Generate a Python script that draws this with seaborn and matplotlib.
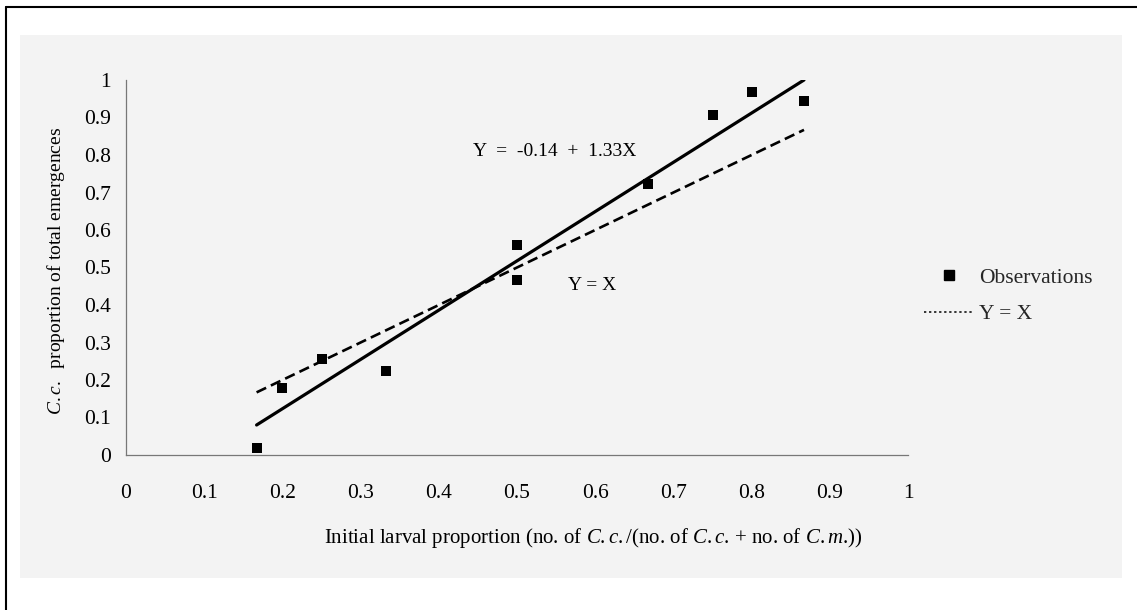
import matplotlib
matplotlib.use("Agg")
import matplotlib.pyplot as plt
import seaborn as sns
import pandas as pd
from matplotlib.lines import Line2D
from matplotlib.patches import Rectangle

# ---- data ----
obs_x = [0.167, 0.2, 0.25, 0.333, 0.5, 0.5, 0.667, 0.75, 0.8, 0.867]
obs_y = [0.02, 0.18, 0.255, 0.225, 0.56, 0.468, 0.722, 0.908, 0.968, 0.945]
fit_x = [0.167, 0.867]
fit_y = [0.08, 1.0]
idline_x = [0.167, 0.867]
idline_y = [0.167, 0.867]
tick_vals = [0, 0.1, 0.2, 0.3, 0.4, 0.5, 0.6, 0.7, 0.8, 0.9, 1]
tick_labels = ["0", "0.1", "0.2", "0.3", "0.4", "0.5", "0.6", "0.7", "0.8", "0.9", "1"]
eq_text = "Y  =  -0.14  +  1.33X"
id_text = "Y = X"
legend_labels = ["Observations", "Y = X"]

sns.set_theme(style="white")
plt.rcParams["font.family"] = ["Liberation Serif", "DejaVu Serif"]
plt.rcParams["mathtext.fontset"] = "custom"
plt.rcParams["mathtext.rm"] = "Liberation Serif"
plt.rcParams["mathtext.it"] = "Liberation Serif:italic"

FS_TICK = 15.5
FS_XLAB = 15
FS_YLAB = 14
FS_ANN = 14
fig = plt.figure(figsize=(11.37, 6.10), dpi=100)
fig.patch.set_facecolor("white")

# scanned page background
W, H = 1137, 610
fig.add_artist(Rectangle((20 / W, 1 - 578 / H), (1122 - 20) / W, (578 - 35) / H,
                         transform=fig.transFigure, facecolor="#f3f3f3",
                         edgecolor="none", zorder=-2))
fig.add_artist(Line2D([6 / W, 1], [1 - 7 / H, 1 - 7 / H], transform=fig.transFigure,
                      color="black", lw=1.5, zorder=-1))
fig.add_artist(Line2D([6 / W, 6 / W], [0, 1 - 7 / H], transform=fig.transFigure,
                      color="black", lw=1.5, zorder=-1))

ax = fig.add_axes([126 / W, 1 - 455 / H, (908 - 126) / W, (455 - 80) / H])
ax.set_facecolor("none")

df_obs = pd.DataFrame({"x": obs_x, "y": obs_y})
df_fit = pd.DataFrame({"x": fit_x, "y": fit_y})
df_id = pd.DataFrame({"x": idline_x, "y": idline_y})

sns.lineplot(data=df_fit, x="x", y="y", ax=ax, color="black", lw=2.3,
             estimator=None, legend=False)
sns.lineplot(data=df_id, x="x", y="y", ax=ax, color="black", lw=1.9,
             estimator=None, legend=False, dashes=False)
ax.lines[-1].set_dashes([4, 2])
sns.scatterplot(data=df_obs, x="x", y="y", ax=ax, marker="s", s=60,
                color="black", edgecolor="black", linewidth=0, legend=False, zorder=5)

ax.set_xlim(0, 1)
ax.set_ylim(0, 1)
ax.set_xticks(tick_vals)
ax.set_xticklabels(tick_labels)
ax.set_yticks(tick_vals)
ax.set_yticklabels(tick_labels)

for s in ["top", "right"]:
    ax.spines[s].set_visible(False)
for s in ["left", "bottom"]:
    ax.spines[s].set_color("#777777")
    ax.spines[s].set_linewidth(0.9)

ax.tick_params(axis="x", direction="in", length=4, width=0.9, color="#777777",
               pad=21, labelsize=FS_TICK, labelcolor="black")
ax.tick_params(axis="y", direction="in", length=4, width=0.9, color="#777777",
               pad=11, labelsize=FS_TICK, labelcolor="black")

ax.set_xlabel(r"Initial larval proportion (no. of $\it{C.c.}$/(no. of $\it{C.c}$. + no. of $\it{C.m}$.))",
              fontsize=FS_XLAB, color="black")
ax.xaxis.set_label_coords(0.597, -0.19)
ax.set_ylabel(r"$\it{C.c.}$  proportion of total emergences", fontsize=FS_YLAB, color="black")
ax.yaxis.set_label_coords(-0.076, 0.49)

ax.text(0.444, 0.808, eq_text, fontsize=FS_ANN, ha="left", va="center", color="black")
ax.text(0.565, 0.453, id_text, fontsize=FS_ANN, ha="left", va="center", color="black")

handles = [
    Line2D([], [], marker="s", linestyle="none", color="black", markersize=7.5),
    Line2D([], [], linestyle=(0, (1.5, 1.8)), color="black", lw=1.1),
]
leg = ax.legend(handles, legend_labels, loc="center left",
                bbox_to_anchor=(924 / W, 1 - 296 / H), bbox_transform=fig.transFigure,
                frameon=False, fontsize=FS_TICK, handlelength=2.3, handletextpad=0.25,
                labelspacing=0.75, borderaxespad=0, borderpad=0)

fig.savefig("out.png", dpi=100)
